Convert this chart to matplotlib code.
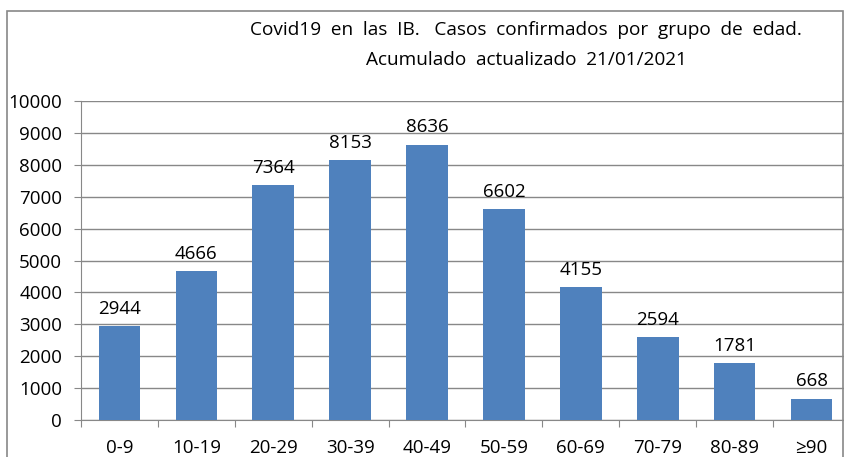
import matplotlib.pyplot as plt
from matplotlib.patches import Rectangle

groups = ["0-9", "10-19", "20-29", "30-39", "40-49", "50-59",
          "60-69", "70-79", "80-89", "\u226590"]
cases = [2944, 4666, 7364, 8153, 8636, 6602, 4155, 2594, 1781, 668]

plt.rcParams['font.family'] = ['Open Sans', 'DejaVu Sans']

W, H = 845, 457
fig = plt.figure(figsize=(W / 100, H / 100), dpi=100)

# axes area in pixels: left 81, right 850, top 101, bottom 420
ax = fig.add_axes([81 / W, 1 - 420 / H, (850 - 81) / W, (420 - 101) / H])

x = range(len(groups))
ax.bar(x, cases, width=0.54, color="#4f81bd", zorder=3)
for i, v in enumerate(cases):
    ax.text(i, v + 260, str(v), ha="center", va="bottom", fontsize=13.5)

ax.set_xlim(-0.5, len(groups) - 0.5)
ax.set_ylim(0, 10000)
ax.set_yticks(range(0, 10001, 1000))
ax.tick_params(axis="y", labelsize=13.5, length=5, color="#888888", pad=8.5)
ax.set_xticks([i - 0.5 for i in range(len(groups) + 1)])
ax.set_xticklabels([])
ax.set_xticks(list(x), minor=True)
ax.set_xticklabels(groups, minor=True)
ax.tick_params(axis="x", which="major", length=5, color="#888888")
ax.tick_params(axis="x", which="minor", length=0, labelsize=13.5, pad=14)

ax.grid(axis="y", color="#888888", linewidth=1, zorder=0)
for s in ["top", "right"]:
    ax.spines[s].set_visible(False)
ax.spines["left"].set_color("#888888")
ax.spines["bottom"].set_color("#888888")

fig.text(526 / W, 1 - 30 / H,
         "Covid19  en  las  IB.   Casos  confirmados  por  grupo  de  edad.",
         ha="center", va="center", fontsize=13.7)
fig.text(526 / W, 1 - 60 / H, "Acumulado  actualizado  21/01/2021",
         ha="center", va="center", fontsize=13.7)

# chart border
fig.patches.append(Rectangle((7 / W, -0.1), (843 - 7) / W, 1.1 - 11 / H,
                             transform=fig.transFigure, fill=False,
                             edgecolor="#888888", linewidth=1.2))

fig.savefig("out.png", dpi=100)
